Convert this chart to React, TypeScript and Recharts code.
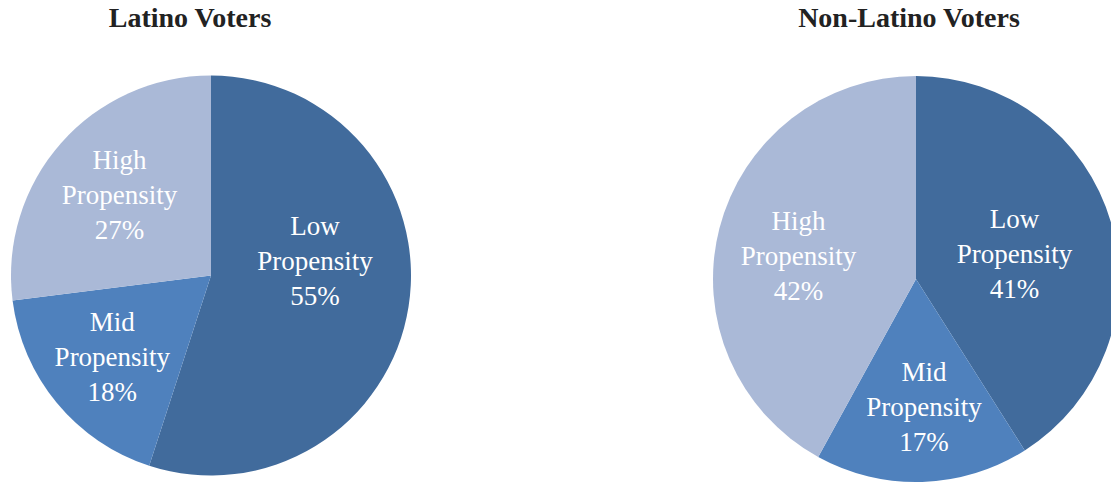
import React from "react";
import { PieChart, Pie, Cell } from "recharts";

const categories = ["Low Propensity", "Mid Propensity", "High Propensity"];
const latinoValues = [55, 18, 27];
const nonLatinoValues = [41, 17, 42];
const chartTitles = ["Latino Voters", "Non-Latino Voters"];

const COLORS = ["#416B9C", "#4F81BD", "#AAB9D7"];
const FONT = "'Liberation Serif', 'Times New Roman', serif";
const RAD = Math.PI / 180;

const latinoData = categories.map((c, i) => ({ name: c, value: latinoValues[i] }));
const nonLatinoData = categories.map((c, i) => ({ name: c, value: nonLatinoValues[i] }));

// label placement tweaks (radius ratio, angle shift in degrees)
const leftLabelLayout = [
  { r: 0.525, a: 17 },
  { r: 0.64, a: 0 },
  { r: 0.61, a: 0 },
];
const rightLabelLayout = [
  { r: 0.5, a: -2 },
  { r: 0.63, a: 1.8 },
  { r: 0.59, a: 3.3 },
];

const makeLabel = (layout: { r: number; a: number }[]) => (props: any) => {
  const { cx, cy, midAngle, outerRadius, index, name, value } = props;
  const adj = layout[index];
  const ang = midAngle + adj.a;
  const r = outerRadius * adj.r;
  const x = cx + r * Math.cos(-ang * RAD);
  const y = cy + r * Math.sin(-ang * RAD);
  const words = String(name).split(" ");
  const lines = [words[0], words.slice(1).join(" "), `${value}%`];
  return (
    <text
      textAnchor="middle"
      fill="#ffffff"
      fontFamily={FONT}
      fontSize={27}
      dominantBaseline="central"
    >
      {lines.map((l, i) => (
        <tspan key={i} x={x} y={y + (i - 1) * 35} dominantBaseline="central">
          {l}
        </tspan>
      ))}
    </text>
  );
};

export default function App() {
  return (
    <div style={{ position: "absolute", left: 0, top: 0, width: 1111, height: 483, background: "#fff" }}>
      <PieChart
        width={1111}
        height={483}
        margin={{ top: 0, right: 0, bottom: 0, left: 0 }}
        style={{ position: "absolute", left: 0, top: 0 }}
      >
        <Pie
          data={latinoData}
          dataKey="value"
          nameKey="name"
          cx={211}
          cy={275.5}
          outerRadius={200}
          startAngle={90}
          endAngle={-270}
          stroke="none"
          labelLine={false}
          label={makeLabel(leftLabelLayout)}
          isAnimationActive={false}
        >
          {latinoData.map((d, i) => (
            <Cell key={d.name} fill={COLORS[i]} />
          ))}
        </Pie>
        <Pie
          data={nonLatinoData}
          dataKey="value"
          nameKey="name"
          cx={916}
          cy={279}
          outerRadius={203}
          startAngle={90}
          endAngle={-270}
          stroke="none"
          labelLine={false}
          label={makeLabel(rightLabelLayout)}
          isAnimationActive={false}
        >
          {nonLatinoData.map((d, i) => (
            <Cell key={d.name} fill={COLORS[i]} />
          ))}
        </Pie>
      </PieChart>
      <svg width={1111} height={60} style={{ position: "absolute", left: 0, top: 0 }}>
        <text x={190} y={27} textAnchor="middle" fontFamily={FONT} fontWeight="bold" fontSize={28} fill="#222">
          {chartTitles[0]}
        </text>
        <text x={909} y={27} textAnchor="middle" fontFamily={FONT} fontWeight="bold" fontSize={28} fill="#222">
          {chartTitles[1]}
        </text>
      </svg>
    </div>
  );
}
